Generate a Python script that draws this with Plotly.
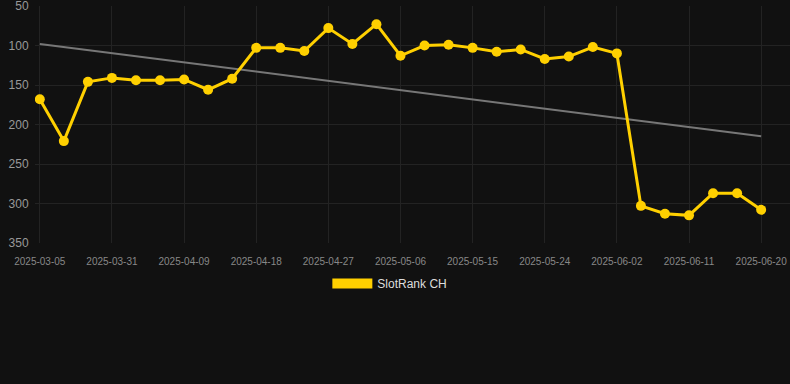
import numpy as np
import plotly.graph_objects as go

dates = ["2025-03-05", "2025-03-25", "2025-03-28", "2025-03-31", "2025-04-03", "2025-04-06",
         "2025-04-09", "2025-04-12", "2025-04-15", "2025-04-18", "2025-04-21", "2025-04-24",
         "2025-04-27", "2025-04-30", "2025-05-03", "2025-05-06", "2025-05-09", "2025-05-12",
         "2025-05-15", "2025-05-18", "2025-05-21", "2025-05-24", "2025-05-27", "2025-05-30",
         "2025-06-02", "2025-06-05", "2025-06-08", "2025-06-11", "2025-06-14", "2025-06-17",
         "2025-06-20"]
ranks = [168, 221, 146, 141, 144, 144, 143, 156, 142, 103, 103, 107, 78, 98, 73, 113,
         100, 99, 103, 108, 105, 117, 114, 102, 110, 303, 313, 315, 287, 287, 308]
tick_labels = dates[::3]
y_ticks = [50, 100, 150, 200, 250, 300, 350]
series_name = "SlotRank CH"

idx = np.arange(len(ranks))
slope, intercept = np.polyfit(idx, ranks, 1)
trend = [intercept, intercept + slope * idx[-1]]

fig = go.Figure()
fig.add_trace(go.Scatter(x=[dates[0], dates[-1]], y=trend, mode="lines",
                         line=dict(color="#777777", width=2), showlegend=False,
                         hoverinfo="skip"))
fig.add_trace(go.Scatter(x=dates, y=ranks, mode="lines+markers",
                         line=dict(color="#FFD000", width=3),
                         marker=dict(color="#FFD000", size=10),
                         showlegend=False, name=series_name))
fig.add_trace(go.Scatter(x=[None], y=[None], mode="lines",
                         line=dict(color="#FFD000", width=12),
                         name=series_name, showlegend=True))

fig.update_layout(
    width=790, height=384,
    paper_bgcolor="#111111", plot_bgcolor="#111111",
    margin=dict(l=35, r=0, t=6, b=141, autoexpand=False),
    font=dict(family="Liberation Sans, Arial, sans-serif", color="#999999"),
    showlegend=True,
    legend=dict(orientation="h", x=0.47, xanchor="center",
                y=-0.11, yanchor="top",
                font=dict(size=12, color="#dddddd"), itemwidth=40),
)
fig.update_xaxes(type="category", categoryorder="array", categoryarray=dates,
                 range=[-0.2, 31.2], tickvals=tick_labels, tickangle=0,
                 ticktext=tick_labels, tickfont=dict(size=10, color="#888888"),
                 showgrid=True, gridcolor="#232323", gridwidth=1,
                 showline=False, zeroline=False,
                 ticks="outside", ticklen=9, tickcolor="rgba(0,0,0,0)")
fig.update_yaxes(range=[350, 50], tickvals=y_ticks,
                 tickfont=dict(size=12, color="#999999"),
                 showgrid=True, gridcolor="#232323", gridwidth=1,
                 zeroline=False, showline=False,
                 ticks="outside", ticklen=3, tickcolor="rgba(0,0,0,0)",
                 ticklabeloverflow="allow")
fig.write_html("out.html", config={"displayModeBar": False},
               post_script="document.body.style.margin='0';document.body.style.background='#111111';")
